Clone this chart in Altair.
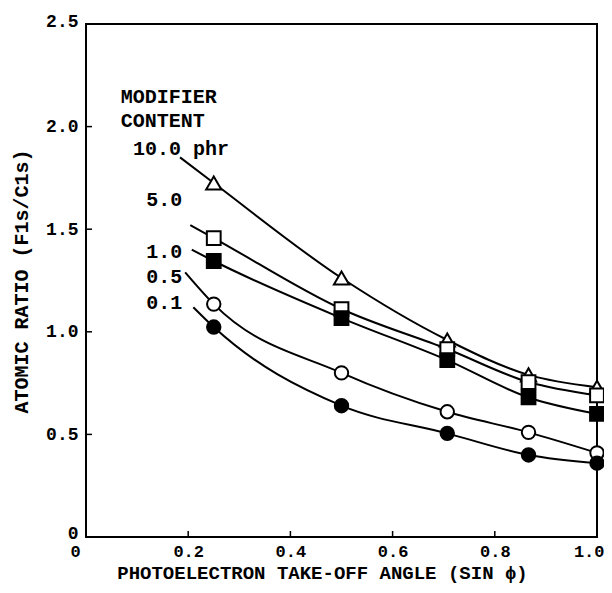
import altair as alt
import pandas as pd

FONT = "Liberation Mono"

# measured data points
x_pts = [0.25, 0.5, 0.707, 0.866, 1.0]
series_names = ["10.0", "5.0", "1.0", "0.5", "0.1"]
y_10 = [1.725, 1.262, 0.96, 0.79, 0.73]
y_5 = [1.457, 1.111, 0.916, 0.755, 0.69]
y_1 = [1.345, 1.067, 0.862, 0.68, 0.60]
y_05 = [1.135, 0.80, 0.61, 0.51, 0.41]
y_01 = [1.023, 0.64, 0.505, 0.40, 0.36]
ys = [y_10, y_5, y_1, y_05, y_01]

# where each fitted curve starts (left end)
curve_start_x = [0.184, 0.204, 0.207, 0.194, 0.21]
curve_start_y = [1.85, 1.52, 1.40, 1.29, 1.12]

shapes = ["triangle-up", "square", "square", "circle", "circle"]
filled = [False, False, True, False, True]
sizes = [230, 190, 190, 180, 180]

# annotation texts
ann_text = ["MODIFIER", "CONTENT", "10.0 phr", "5.0", "1.0", "0.5", "0.1"]
ann_x = [0.068, 0.068, 0.092, 0.118, 0.118, 0.118, 0.118]
ann_y = [2.144, 2.027, 1.893, 1.64, 1.39, 1.265, 1.14]

y_ticks = [0, 0.5, 1.0, 1.5, 2.0, 2.5]
x_ticks = [0, 0.2, 0.4, 0.6, 0.8, 1.0]

W, H = 511, 513

curve_rows = []
for s, sx, sy, yy in zip(series_names, curve_start_x, curve_start_y, ys):
    curve_rows.append({"series": s, "x": sx, "y": sy})
    for xv, yv in zip(x_pts, yy):
        curve_rows.append({"series": s, "x": xv, "y": yv})
curves = pd.DataFrame(curve_rows)

xs = alt.Scale(domain=[0, 1.0], nice=False, zero=False)
ysc = alt.Scale(domain=[0, 2.5], nice=False, zero=False)

x_axis = alt.Axis(
    values=x_ticks, ticks=False, domain=False, grid=False,
    labelExpr="datum.value == 0 ? '0' : format(datum.value, '.1f')",
    labelAlign=alt.expr("datum.value == 1 ? 'right' : 'center'"),
    labelOffset=alt.expr("datum.value == 0 ? -11 : (datum.value == 1 ? 7 : 0)"),
    labelPadding=6, labelFont=FONT, labelFontSize=17, labelFontWeight="bold", labelColor="black",
    title="PHOTOELECTRON TAKE-OFF ANGLE (SIN \u03d5)",
    titleFont=FONT, titleFontSize=19, titleFontWeight="bold", titleColor="black",
    titleX=236, titleY=35, titleBaseline="middle", titleAlign="center",
)
y_axis = alt.Axis(
    values=y_ticks, ticks=False, domain=False, grid=False,
    labelExpr="datum.value == 0 ? '0' : format(datum.value, '.1f')",
    labelOffset=alt.expr("datum.value == 0 ? -4 : (datum.value == 2.5 ? -3 : 0)"),
    labelPadding=8, labelFont=FONT, labelFontSize=18, labelFontWeight="bold", labelColor="black",
    title="ATOMIC RATIO (F1s/C1s)",
    titleFont=FONT, titleFontSize=20, titleFontWeight="bold", titleColor="black",
    titleX=-65, titleY=257, titleBaseline="middle", titleAlign="center", titleAngle=270,
)

lines = alt.Chart(curves).mark_line(
    interpolate="monotone", color="black", strokeWidth=2
).encode(
    x=alt.X("x:Q", scale=xs, axis=x_axis),
    y=alt.Y("y:Q", scale=ysc, axis=y_axis),
    detail="series:N",
)

layers = [lines]
for s, yy, shp, f, sz in zip(series_names, ys, shapes, filled, sizes):
    df = pd.DataFrame({"x": x_pts, "y": yy})
    layers.append(
        alt.Chart(df).mark_point(
            shape=shp, size=sz, filled=True,
            fill="black" if f else "white", stroke="black", strokeWidth=2, opacity=1,
        ).encode(x=alt.X("x:Q", scale=xs), y=alt.Y("y:Q", scale=ysc))
    )

ytick_df = pd.DataFrame({"v": y_ticks[1:-1]})
xtick_df = pd.DataFrame({"v": x_ticks[1:-1]})
layers.append(
    alt.Chart(ytick_df).mark_rule(color="black", strokeWidth=1.5).encode(
        y=alt.Y("v:Q", scale=ysc), x=alt.value(0), x2=alt.value(6)
    )
)
layers.append(
    alt.Chart(xtick_df).mark_rule(color="black", strokeWidth=1.5).encode(
        x=alt.X("v:Q", scale=xs), y=alt.value(H), y2=alt.value(H - 6)
    )
)

ann = pd.DataFrame({"t": ann_text, "x": ann_x, "y": ann_y})
layers.append(
    alt.Chart(ann).mark_text(
        align="left", baseline="middle", font=FONT, fontSize=20, fontWeight="bold", color="black"
    ).encode(x=alt.X("x:Q", scale=xs), y=alt.Y("y:Q", scale=ysc), text="t:N")
)

chart = alt.layer(*layers).properties(
    width=W, height=H,
    autosize=alt.AutoSizeParams(type="none"),
    padding={"left": 78, "top": 16, "right": 7, "bottom": 47},
).configure(background="white").configure_view(stroke="black", strokeWidth=2)

chart.save("out.html", embed_options={"renderer": "svg", "actions": False})
